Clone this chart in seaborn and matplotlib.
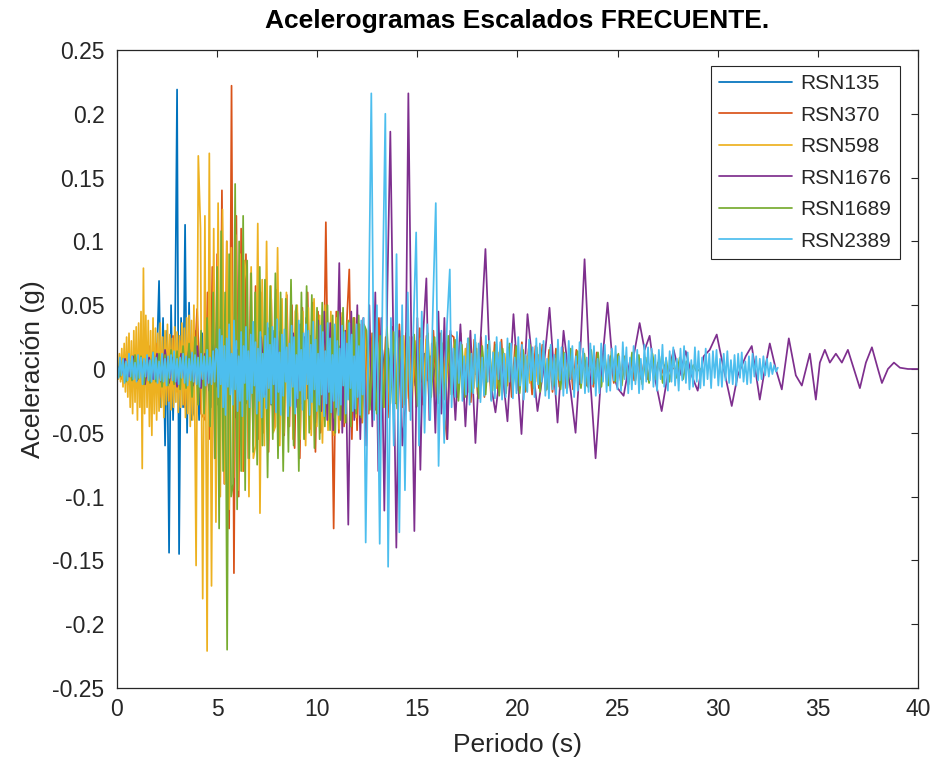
import numpy as np
import pandas as pd
import matplotlib
matplotlib.use("Agg")
import matplotlib.pyplot as plt
import seaborn as sns

# ---------------- data (accelerations, in milli-g) ----------------
names = ["RSN135", "RSN370", "RSN598", "RSN1676", "RSN1689", "RSN2389"]
colors = ["#0072BD", "#D95319", "#EDB120", "#7E2F8E", "#77AC30", "#4DBEEE"]

# each segment: (start time s, sample step s, readings in mg)
rsn135 = [
    (0.0, 0.15, [2, -5, 6, -8, 5, -7, 9, -6, 8, -10, 7, -12, 10, -15]),
    (2.1, 0.10, [69, -30, 40, -60, 30, -144, 50, -40, 30, 219, -145, 40, -30, 113, -50, 52, -40]),
    (3.8, 0.15, [-35, 30, -40, 28, -32, 35, -30, 38, -28, 33, -36, 30, -34, 28, -38, 32, -30, 35, -27, 31,
                 -33, 29, -35, 26, -30, 32, -28, 30, -25, 29, -31, 27, -26, 28, -30, 24, -27, 25, -23, 26,
                 -24, 22, -25, 20, -22, 23, -19, 21, -22, 18, -20, 19, -17, 20, -18, 16, -19, 17, -15, 18,
                 -16, 14, -17, 15, -13, 16, -14, 12, -15, 13, -11, 14, -12, 10, -13, 11, -10, 12, -9, 10,
                 -10, 8, -9, 9, -7, 8, -8, 6, -7, 7, -5, 6, -5, 4, -4, 3, -2, 1]),
]

rsn370 = [
    (0.0, 0.20, [5, -8, 10, -12, 8, -15, 12, -10, 18, -14, 20, -22, 15, -25, 26, -18, 22, -30, 28, -20, 47, -35]),
    (4.4, 0.12, [-40, 60, -55, 80, -70, 90, -85, 140, -90, 100, -125, 222, -160, 120, -100, 110, -80, 90,
                 -70, 75, -60, 65]),
    (7.05, 0.13, [-55, 60, -50, 45, -65, 55, -48, 62, -58, 40, -52, 58, -45, 50, -62, 44, -70, 48, -55, 60,
                  -47, 52, -65, 45, -50, -35, 115, -40, 30, -125, 45, -50, 40, -45, 35, 78, -55, 40, -48, 35, -42]),
    (12.4, 0.17, [30, -35, 28, -32, 40, -30, 25, -38, 33, -27, 35, -30, 28, -33, 25, -30, 32, -28, 26, -30,
                  30, -25, 28, -30, -55, 27, 25, -22, 28, -24, 20, -26, 23, -20, 25, -22, 19, -24, 21, -18,
                  23, -20, 17, -22, 19, -17, 21, -18, 16, -20, 18, -15, 19, -17, 15, -18, 16, -14, 17, -15,
                  13, -16, 15, -12, 14, -13, 12, -14, 13, -11, 12, -12, 10, -11, 11, -9, 10, -10, 8, -9,
                  9, -8, 7, -8, 6, -6, 5, -4, 3, -2, 1, 0]),
]

rsn598 = [
    (0.0, 0.06, [4, -8, 12, -10, 16, -14, 20, -18, 25, -22,
                 28, -30, 22, -35, 30, -26, 33, -40, 36, -30,
                 45, -78, 79, -35, 42, -30, 38, -45, 30, -52,
                 40, -35, 32, -40, 28, -33, 36, -30, 25, -38,
                 30, -28, 35, -25, 27, -32, 24, -30, 33, -26,
                 29, -34, 26, -30, 36, -28, 32, -38, 40, -35,
                 42, -45, 38, -40]),
    (3.84, 0.11, [50, -154, 167, 110, -180, 120, -221, 169, -170, 110, -120, 130, -100, 125, -90, 100, -110, 95,
                  -85, 105, -95, 90, -80, 85, 70, -100, 80, -70, -60, 114, -113, 70, -60, 100, -55, 65,
                  -50, -45, 95, -60, 55, -50, 60, -45, 50, -55, 45]),
    (9.0, 0.14, [50, -55, 45, -60, 48, -52, 55, -45, 42, -58, 50, -48, 45, -52, 40, -47, 44, -42, 38, -45,
                 40, -38, 35, -42, 33, -35, 30, -33, 28, -32, 27, -30, 25, -28, 30, -26, 24, -29, 26, -23,
                 25, -27, 22, -25, 24, -21, 23, -24, 20, -22, 21, -19, 20, -21, 18, -20, 19, -17, 18, -19,
                 16, -18, 17, -15, 16, -17, 14, -16, 15, -13, 14, -15, 13, -14, 12, -13, 12, -11, 13, -12,
                 11, -12, 10, -11, 12, -10, 11, -9, 10, -10, 9, -9, 8, -8, 7, -7, 6, -5, 4, -3,
                 3, -2, 2, -2, 1, -1, 1, 0]),
]

rsn1676 = [
    (0.0, 0.20, [3, -5, 8, -6, 10, -9, 7, -12, 9, -8, 12, -10, 15, -11, 9, -14, 12, -10, 16, -13,
                 18, -15, 12, -17, 20, -14, 16, -19, 22, -18, 15, -20, 24, -16, 19, -22, 25, -20, 18, -24,
                 26, -21, 20, -25, 28]),
    (9.0, 0.15, [-30, 35, -28, 40, -35, 30, -42, 38, -33, 45, -40, 36, -48, -30, 83, -50, 30, -122, 45, -40,
                 50, -55, 40]),
    (12.45, 0.15, [-60, 50, -45, 60, -80, 40, -111, 60, 186, 20, -140, 30, -60, -30, 216, 20, -127, 40, -79, 30,
                   71, -40, 20, -50, 45, -35, 40, -55]),
    (16.65, 0.25, [30, -40, 35, -45, 30, -58, 20, 94, -10]),
]
rsn1676_tail_t = [18.9, 19.2, 19.5, 19.8, 20.2, 20.5, 20.65, 21.0, 21.3, 21.6, 22.0, 22.3, 22.6, 22.9, 23.1,
                  23.35, 23.6, 23.9, 24.2, 24.5, 24.8, 25.0, 25.3, 25.6, 25.8, 26.1, 26.35, 26.6, 26.9, 27.2,
                  27.5, 27.8, 28.1, 28.4, 28.7, 29.0, 29.3, 29.6, 29.95, 30.3, 30.7, 31.0, 31.4, 31.7, 32.1,
                  32.3, 32.6, 32.9, 33.2, 33.55, 33.9, 34.2, 34.6, 34.9, 35.1, 35.35, 35.6, 35.9, 36.2, 36.5,
                  36.8, 37.1, 37.4, 37.7, 38.0, 38.2, 38.5, 38.8, 39.1, 39.5, 40.0]
rsn1676_tail_mg = [-34, 5, -41, 43, -51, 43, 20, -33, 0, 48, -42, 30, -10, -50, 0,
                   86, 0, -70, 0, 52, -5, -15, -21, 5, 10, 36, 15, 26, -10, -33,
                   -5, 15, -5, 14, -5, -17, 10, 15, 27, 0, -29, -5, 10, 18, -24,
                   -5, 20, 0, -16, 24, -5, -13, 12, -24, 5, 15, 5, 12, 5, 15,
                   0, -15, 5, 17, 0, -11, 0, 5, 1, 0, 0]

rsn1689 = [
    (0.0, 0.15, [3, -6, 8, -10, 7, -9, 11, -8, 10, -12, 9, -11, 13, -10, 12, -14, 11, -13, 15, -12,
                 14, -16, 18, -15, 20, -22, 25, -28, 30, -35, 40, -45]),
    (4.8, 0.10, [60, -70, 80, -125, 108, -80, 60, -220, 90, -100, -90, 145, -110, 100, -80, 120, -95, 85,
                 -70, 75, -65, 60]),
    (7.0, 0.13, [-75, 80, -60, 70, -85, 65, -55, 75, -70, 60, -80, 55, -65, 70, -60, 50, -80, 60, -55, 65,
                 -50, 58, -62, 48, -55, 52, -45, 50, -48, 42, -50, 45, -40, 48, -42, 38, -45, 40, -35, 42,
                 -38, 35]),
    (12.46, 0.17, [30, -32, 28, -35, 26, -30, 33, -27, 29, -31, 25, -28, 30, -24, 27, -29, 23, -26, 28, -22,
                   25, -27, 21, -24, 26, -20, 23, -25, 19, -22, 24, -18, 21, -23, 18, -20, 22, -17, 19, -21,
                   16, -19, 20, -16, 18, -19, 15, -17, 19, -15, 17, -18, 14, -16, 17, -13, 15, -16, 13, -15,
                   16, -12, 14, -15, 12, -14, 15, -11, 13, -14, 11, -13, 14, -10, 12, -13, 10, -12, 13, -9,
                   11, -12, 9, -11, 12, -8, 10, -11, 8, -10, 11, -7, 9, -8, 6, -5, 3, -2, 0]),
]

rsn2389 = [
    (0.0, 0.075, [3, -7, 9, -5, 8, -11, 6, -9, 12, -6, 10, -8, 5, -10, 11, -7, 9, -12, 8, -6,
                  11, -9, 7, -10, 13, -8, 9, -11, 6, -9, 12, -10, 8, -13, 10, -7, 11, -9, 14, -10,
                  8, -12, 9, -7, 12, -11, 10, -13, 8, -9, 13, -10, 11, -12, 9, -14, 12, -8, 10, -13,
                  15, -11, 9, -12, 14, -10, 16]),
    (5.0, 0.06, [15, -22, 31, -12, 26, -30, 18, -36, 24, -14,
                 35, -20, 12, -28, 38, -16, 22, -33, 10, -25,
                 29, -37, 18, -11, 33, -24, 14, -30, 27, -19,
                 37, -13, 21, -35, 16, -25, 29, -38, 12, -22,
                 26, -31, 36, -15, 19, -27, 33, -12, 24, -34,
                 39, -18, 13, -36, 27, -21, 31, -10, 17, -37,
                 20, -29, 34, -14, 25, -35, 11, -23, 38, -17,
                 15, -32, 28, -24, 35, -12, 30, -36, 19, -26,
                 37, -16, 23, -33, 12, -28, 34, -20, 29, -37,
                 14, -27, 36, -18, 24, -34, 11, -25, 35, -30,
                 22, -36, 16, -28, 34, -13, 29, -35, 20, -24,
                 36, -15, 27, -33, 10, -31, 35, -22, 18, -36,
                 38, -20, 40]),
    (12.42, 0.14, [-136, 30, 216, -40, 50, -137, 60, 200, -155, 40, -60, 90, -128, 50, -95, 60, -40, 30, 107, -60,
                   45, -50, 35, -40, 50, 130, -76, 30, -58, 35]),
    (16.62, 0.09, [78, -30, 16, -22, 29, -11, 21, -25, 10, -20,
                   24, -28, 12, -19, 27, -14, 20, -26, 9, -21,
                   26, -10, 22, -25, 13, -23, 25, -8, 21, -24,
                   12, -22, 24, -10, 20, -23, 9, -19, 25, -13,
                   19, -24, 11, -18, 23, -9, 17, -22, 24, -12,
                   20, -10, 22, -21, 8, -23, 19, -16, 11, -20,
                   23, -9, 17, -21, 12, -19, 22, -8, 18, -22,
                   10, -17, 21, -11, 16, -19, 9, -18, 20, -12,
                   18, -21, 8, -19, 20, -10, 19, -18, 11, -17,
                   16, -9, 18, -16, 10, -17, 21, -8, 17, -19,
                   9, -16, 18, -12, 15, -19, 8, -16, 19, -10,
                   17, -9, 16, -14, 11, -17, 15, -8, 19, -14,
                   9, -17, 14, -10, 17, -13, 8, -17, 16, -9,
                   18, -11, 13, -16, 7, -14, 17, -10, 14, -15,
                   9, -13, 16, -8, 12, -15, 14, -7, 15, -13,
                   8, -14, 12, -9, 14, -11, 7, -12, 11, -13,
                   12, -7, 13, -10, 6, -12, 10, -11, 12, -6,
                   10, -9, 8, -8, 10, -5, 8, -6, 5, -4,
                   3, -2, 1]),
]

x_ticks = [0, 5, 10, 15, 20, 25, 30, 35, 40]
y_ticks = [-0.25, -0.2, -0.15, -0.1, -0.05, 0, 0.05, 0.1, 0.15, 0.2, 0.25]
y_tick_labels = ["-0.25", "-0.2", "-0.15", "-0.1", "-0.05", "0", "0.05", "0.1", "0.15", "0.2", "0.25"]


def build(segments, extra_t=None, extra_mg=None):
    t, a = [], []
    for t0, dt, vals in segments:
        t += [t0 + dt * i for i in range(len(vals))]
        a += [v / 1000.0 for v in vals]
    if extra_t is not None:
        t += list(extra_t)
        a += [v / 1000.0 for v in extra_mg]
    return t, a


series = {
    "RSN135": build(rsn135),
    "RSN370": build(rsn370),
    "RSN598": build(rsn598),
    "RSN1676": build(rsn1676, rsn1676_tail_t, rsn1676_tail_mg),
    "RSN1689": build(rsn1689),
    "RSN2389": build(rsn2389),
}

frames = []
for n in names:
    t, a = series[n]
    frames.append(pd.DataFrame({"t": t, "a": a, "Registro": n}))
df = pd.concat(frames, ignore_index=True)

# ---------------- plot ----------------
sns.set_style("white")
plt.rcParams["font.family"] = ["Liberation Sans", "DejaVu Sans"]

fig = plt.figure(figsize=(9.39, 7.63), dpi=100)
ax = fig.add_axes([0.1246, 0.0983, 0.8530, 0.8362])

sns.lineplot(data=df, x="t", y="a", hue="Registro", hue_order=names, palette=colors,
             sort=False, estimator=None, units="Registro", linewidth=1.25, ax=ax, legend=False)

ax.set_xlim(0, 40)
ax.set_ylim(-0.25, 0.25)
ax.set_xticks(x_ticks)
ax.set_xticklabels([str(v) for v in x_ticks])
ax.set_yticks(y_ticks)
ax.set_yticklabels(y_tick_labels)
ax.tick_params(axis="both", direction="in", length=5, width=0.8, labelsize=16.5,
               top=True, right=True, color="#262626", labelcolor="#262626")
ax.tick_params(axis="y", pad=9)
ax.tick_params(axis="x", pad=7)
for s in ax.spines.values():
    s.set_color("#262626")
    s.set_linewidth(0.9)

ax.set_xlabel("Periodo (s)", fontsize=19, color="#262626", labelpad=9)
ax.set_ylabel("Aceleración (g)", fontsize=19, color="#262626", labelpad=5)
ax.set_title("Acelerogramas Escalados FRECUENTE.", fontsize=19, fontweight="bold",
             color="black", pad=16)

handles = [plt.Line2D([], [], color=c, lw=1.25) for c in colors]
leg = ax.legend(handles, names, loc="upper right", bbox_to_anchor=(0.9775, 0.975),
                borderaxespad=0, fontsize=15, handlelength=3.5, labelspacing=0.6,
                handletextpad=0.4, borderpad=0.4, fancybox=False, framealpha=1,
                edgecolor="#262626")
leg.get_frame().set_linewidth(0.8)

fig.savefig("out.png", dpi=100, facecolor="white")
